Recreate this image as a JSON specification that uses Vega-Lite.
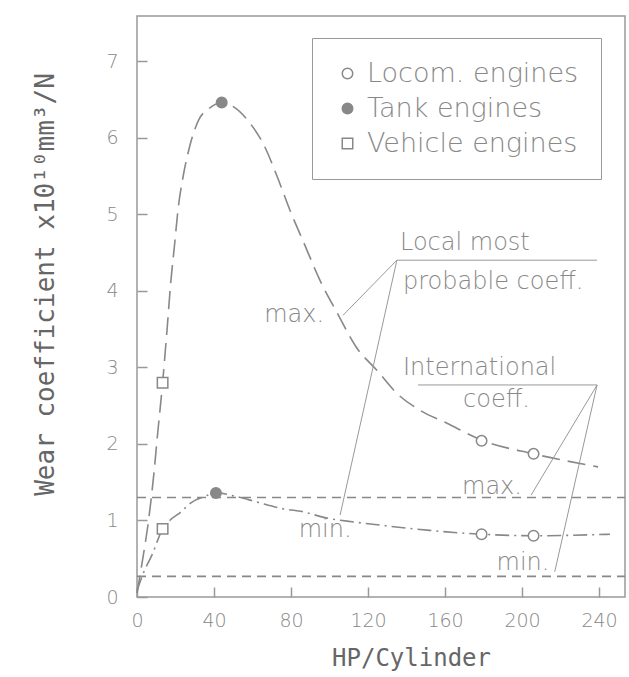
{
  "$schema": "https://vega.github.io/schema/vega-lite/v6.json",
  "width": 488,
  "height": 581,
  "autosize": {"type": "none"},
  "padding": {"left": 137, "top": 16, "right": 4, "bottom": 80},
  "background": "white",
  "config": {
    "view": {"stroke": "#999", "strokeWidth": 1.5},
    "font": "DejaVu Sans"
  },
  "datasets": {
    "maxLocal": [
      {"x": 0, "y": 0.05}, {"x": 2.6, "y": 0.44}, {"x": 6.2, "y": 1.04}, {"x": 8.8, "y": 1.62},
      {"x": 10.4, "y": 2.05}, {"x": 13.3, "y": 2.8}, {"x": 15.6, "y": 3.49}, {"x": 17.5, "y": 4.1},
      {"x": 19.5, "y": 4.6}, {"x": 21.5, "y": 5.1}, {"x": 24, "y": 5.5}, {"x": 27, "y": 5.85},
      {"x": 32, "y": 6.23}, {"x": 37.4, "y": 6.38}, {"x": 44, "y": 6.46}, {"x": 50.4, "y": 6.4},
      {"x": 58.7, "y": 6.19}, {"x": 66, "y": 5.9}, {"x": 72.7, "y": 5.5}, {"x": 79.5, "y": 5.05},
      {"x": 86.8, "y": 4.62}, {"x": 95, "y": 4.14}, {"x": 104, "y": 3.71}, {"x": 114, "y": 3.26},
      {"x": 124.7, "y": 2.96}, {"x": 135, "y": 2.66}, {"x": 147, "y": 2.44}, {"x": 161, "y": 2.27},
      {"x": 179, "y": 2.05}, {"x": 206, "y": 1.87}, {"x": 239.5, "y": 1.7}
    ],
    "minLocal": [
      {"x": 0, "y": 0.08}, {"x": 3.6, "y": 0.33}, {"x": 7.8, "y": 0.55}, {"x": 13.3, "y": 0.89},
      {"x": 17, "y": 1.0}, {"x": 22.3, "y": 1.1}, {"x": 28.6, "y": 1.24}, {"x": 34.8, "y": 1.31},
      {"x": 41, "y": 1.36}, {"x": 52, "y": 1.31}, {"x": 62.3, "y": 1.24}, {"x": 74.3, "y": 1.16},
      {"x": 86.8, "y": 1.11}, {"x": 97, "y": 1.04}, {"x": 112.7, "y": 0.98}, {"x": 126, "y": 0.94},
      {"x": 152, "y": 0.87}, {"x": 179, "y": 0.82}, {"x": 206, "y": 0.8}, {"x": 245.7, "y": 0.82}
    ],
    "intl": [
      {"line": "max", "x": 0, "y": 1.3}, {"line": "max", "x": 253.5, "y": 1.3},
      {"line": "min", "x": 0, "y": 0.27}, {"line": "min", "x": 253.5, "y": 0.27}
    ],
    "points": [
      {"type": "Locom. engines", "x": 179, "y": 2.04},
      {"type": "Locom. engines", "x": 206, "y": 1.87},
      {"type": "Locom. engines", "x": 179, "y": 0.82},
      {"type": "Locom. engines", "x": 206, "y": 0.8},
      {"type": "Tank engines", "x": 44, "y": 6.46},
      {"type": "Tank engines", "x": 41, "y": 1.36},
      {"type": "Vehicle engines", "x": 13.3, "y": 2.8},
      {"type": "Vehicle engines", "x": 13.3, "y": 0.89}
    ],
    "leaders": [
      {"x": 135, "y": 4.4, "x2": 239, "y2": 4.4},
      {"x": 135, "y": 4.4, "x2": 107, "y2": 3.68},
      {"x": 135, "y": 4.4, "x2": 105.5, "y2": 1.07},
      {"x": 146, "y": 2.77, "x2": 239, "y2": 2.77},
      {"x": 239, "y": 2.77, "x2": 204.7, "y2": 1.33},
      {"x": 239, "y": 2.77, "x2": 217, "y2": 0.33}
    ],
    "labelsLeft": [
      {"label": "Local most", "x": 136.6, "y": 4.62},
      {"label": "probable coeff.", "x": 138.2, "y": 4.11},
      {"label": "International", "x": 138.2, "y": 2.99},
      {"label": "coeff.", "x": 169.4, "y": 2.57}
    ],
    "labelsCenter": [
      {"label": "max.", "x": 81.6, "y": 3.69},
      {"label": "min.", "x": 97.7, "y": 0.87},
      {"label": "max.", "x": 184.4, "y": 1.44},
      {"label": "min.", "x": 200.5, "y": 0.44}
    ]
  },
  "encoding": {
    "x": {
      "field": "x", "type": "quantitative",
      "scale": {"domain": [0, 253.5], "nice": false, "zero": false},
      "axis": {
        "values": [0, 40, 80, 120, 160, 200, 240],
        "title": "HP/Cylinder",
        "titleFont": "DejaVu Sans Mono", "titleFontSize": 24, "titleFontWeight": "normal", "titleColor": "#666",
        "titleX": 274, "titleY": 71, "titleAlign": "center", "titleBaseline": "middle",
        "labelFont": "DejaVu Sans", "labelFontSize": 19, "labelFontWeight": 300, "labelColor": "#888",
        "labelFlush": false, "labelOverlap": false,
        "offset": -10, "tickColor": "#999", "tickSize": 10, "tickWidth": 1.5, "labelPadding": 14,
        "domain": false, "grid": false
      }
    },
    "y": {
      "field": "y", "type": "quantitative",
      "scale": {"domain": [0, 7.59], "nice": false, "zero": false},
      "axis": {
        "values": [0, 1, 2, 3, 4, 5, 6, 7],
        "title": "Wear coefficient x10¹⁰mm³/N",
        "titleFont": "DejaVu Sans Mono", "titleFontSize": 26, "titleFontWeight": "normal", "titleColor": "#666",
        "titleX": -102, "titleY": 268, "titleAngle": -90, "titleAlign": "center", "titleBaseline": "middle",
        "labelFont": "DejaVu Sans", "labelFontSize": 19, "labelFontWeight": 300, "labelColor": "#888",
        "labelFlush": false, "labelOverlap": false,
        "offset": -10, "tickColor": "#999", "tickSize": 10, "tickWidth": 1.5, "labelPadding": 19,
        "domain": false, "grid": false
      }
    }
  },
  "layer": [
    {
      "data": {"name": "intl"},
      "mark": {"type": "line", "stroke": "#888", "strokeWidth": 1.6, "strokeDash": [9, 6]},
      "encoding": {"detail": {"field": "line", "type": "nominal"}}
    },
    {
      "data": {"name": "maxLocal"},
      "mark": {"type": "line", "stroke": "#888", "strokeWidth": 1.6, "strokeDash": [18, 8], "interpolate": "monotone"}
    },
    {
      "data": {"name": "minLocal"},
      "mark": {"type": "line", "stroke": "#888", "strokeWidth": 1.6, "strokeDash": [14, 5, 2, 5], "interpolate": "monotone"}
    },
    {
      "data": {"name": "leaders"},
      "mark": {"type": "rule", "stroke": "#999", "strokeWidth": 1},
      "encoding": {
        "x2": {"field": "x2"},
        "y2": {"field": "y2"}
      }
    },
    {
      "data": {"name": "labelsLeft"},
      "mark": {"type": "text", "align": "left", "baseline": "middle", "font": "DejaVu Sans", "fontSize": 24, "fontWeight": 300, "fill": "#888"},
      "encoding": {"text": {"field": "label"}}
    },
    {
      "data": {"name": "labelsCenter"},
      "mark": {"type": "text", "align": "center", "baseline": "middle", "font": "DejaVu Sans", "fontSize": 24, "fontWeight": 300, "fill": "#888"},
      "encoding": {"text": {"field": "label"}}
    },
    {
      "data": {"name": "points"},
      "mark": {"type": "point", "filled": true, "stroke": "#888", "strokeWidth": 1.5, "size": 110, "opacity": 1},
      "encoding": {
        "shape": {
          "field": "type", "type": "nominal",
          "scale": {"domain": ["Locom. engines", "Tank engines", "Vehicle engines"], "range": ["circle", "circle", "square"]},
          "legend": {
            "title": null, "orient": "none", "legendX": 175, "legendY": 22, "padding": 22,
            "strokeColor": "#999", "fillColor": "white",
            "labelFont": "DejaVu Sans", "labelFontSize": 27, "labelFontWeight": 300, "labelColor": "#888", "labelLimit": 400,
            "labelOffset": 6, "rowPadding": 7, "symbolSize": 110,
            "encode": {"symbols": {"update": {"stroke": {"value": "#888"}, "strokeWidth": {"value": 1.5}, "opacity": {"value": 1}}}}
          }
        },
        "fill": {
          "field": "type", "type": "nominal",
          "scale": {"domain": ["Locom. engines", "Tank engines", "Vehicle engines"], "range": ["white", "#888", "white"]},
          "legend": {
            "title": null, "orient": "none", "legendX": 175, "legendY": 22, "padding": 22,
            "strokeColor": "#999", "fillColor": "white",
            "labelFont": "DejaVu Sans", "labelFontSize": 27, "labelFontWeight": 300, "labelColor": "#888", "labelLimit": 400,
            "labelOffset": 6, "rowPadding": 7, "symbolSize": 110,
            "encode": {"symbols": {"update": {"stroke": {"value": "#888"}, "strokeWidth": {"value": 1.5}, "opacity": {"value": 1}}}}
          }
        }
      }
    }
  ]
}
